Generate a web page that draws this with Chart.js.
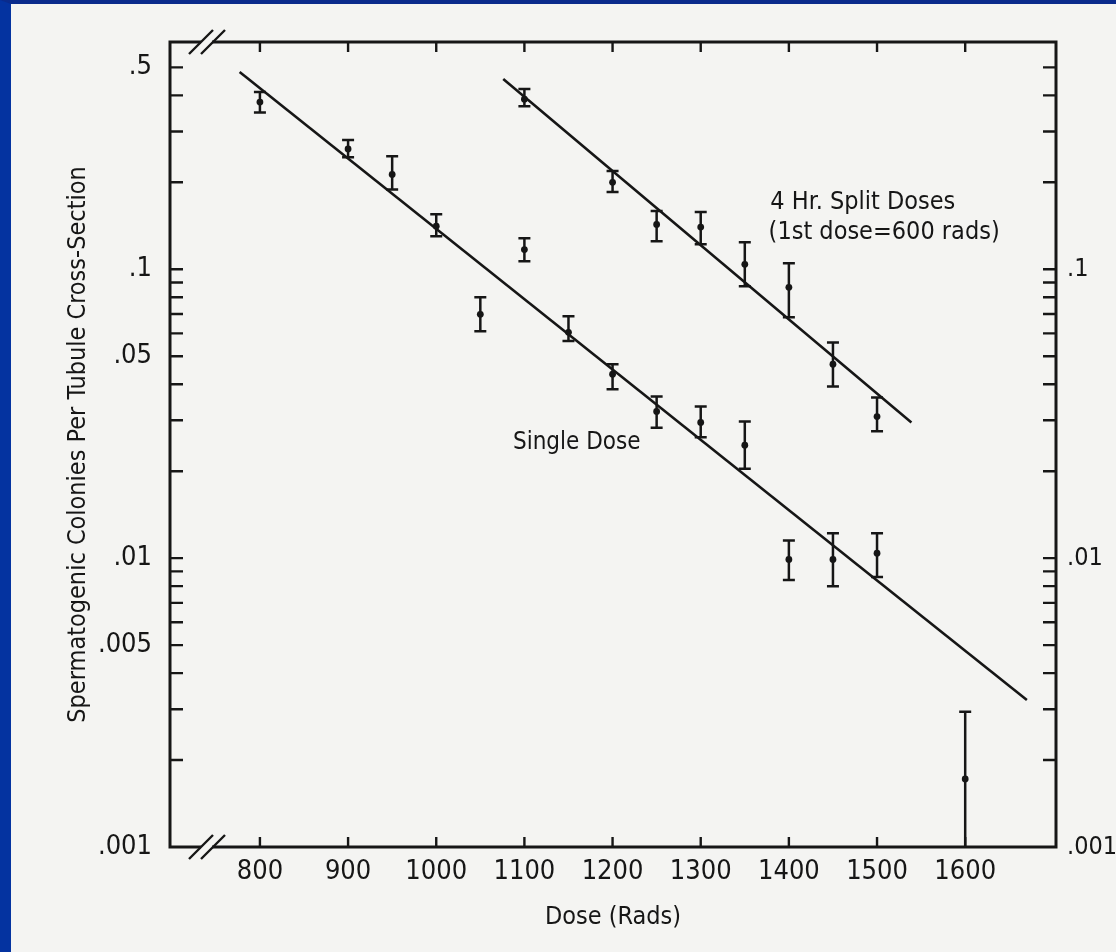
<!DOCTYPE html>
<html>
<head>
<meta charset="utf-8">
<script src="https://cdn.jsdelivr.net/npm/chart.js@4.4.1/dist/chart.umd.min.js"></script>
<style>
  html, body { margin: 0; padding: 0; background: #f4f4f2; }
  #frame { width: 1116px; height: 952px; box-sizing: border-box; border-left: 11px solid #0433a0; border-top: 4px solid #0a2b8c; background: #f4f4f2; }
  #frame canvas { display: block; }
</style>
</head>
<body>
<div id="frame"><canvas id="chart" width="1105" height="948"></canvas></div>
<script>
// Spermatogenic colony survival vs dose — single dose and 4 hr split doses.
const INK = '#161616';
const FONT = "'DejaVu Sans Condensed', 'DejaVu Sans', sans-serif";

// Single dose: mean and error bar limits
const singleDose = [800, 900, 950, 1000, 1050, 1100, 1150, 1200, 1250, 1300, 1350, 1400, 1450, 1500, 1600];
const singleMean = [0.379, 0.261, 0.213, 0.141, 0.0698, 0.117, 0.0605, 0.0433, 0.0322, 0.0295, 0.0246, 0.0099, 0.0099, 0.0104, 0.00172];
const singleHigh = [0.411, 0.280, 0.246, 0.155, 0.080, 0.128, 0.0688, 0.0469, 0.0363, 0.0335, 0.0297, 0.0115, 0.0122, 0.0122, 0.00294];
const singleLow  = [0.349, 0.244, 0.189, 0.130, 0.061, 0.1066, 0.0565, 0.0384, 0.0283, 0.0262, 0.0204, 0.0084, 0.0080, 0.0086, 0.0008];

// 4 hr split doses (1st dose = 600 rads)
const splitDose = [1100, 1200, 1250, 1300, 1350, 1400, 1450, 1500];
const splitMean = [0.388, 0.200, 0.143, 0.140, 0.104, 0.0866, 0.0469, 0.0309];
const splitHigh = [0.421, 0.219, 0.159, 0.158, 0.124, 0.105, 0.0558, 0.036];
const splitLow  = [0.367, 0.185, 0.125, 0.122, 0.0874, 0.0682, 0.0393, 0.0275];

// Fitted lines (end points)
const singleFitDose = [777, 1670];
const singleFitValue = [0.482, 0.00323];
const splitFitDose = [1076, 1539];
const splitFitValue = [0.456, 0.0295];

// Axes
const xTicks = [800, 900, 1000, 1100, 1200, 1300, 1400, 1500, 1600];
const yTicks = [0.001, 0.002, 0.003, 0.004, 0.005, 0.006, 0.007, 0.008, 0.009,
                0.01, 0.02, 0.03, 0.04, 0.05, 0.06, 0.07, 0.08, 0.09,
                0.1, 0.2, 0.3, 0.4, 0.5];
const yLeftLabelValues = [0.5, 0.1, 0.05, 0.01, 0.005, 0.001];
const yLeftLabelText = ['.5', '.1', '.05', '.01', '.005', '.001'];
const yRightLabelValues = [0.1, 0.01, 0.001];
const yRightLabelText = ['.1', '.01', '.001'];

// Annotations (data coordinates)
const notes = [
  { text: '4 Hr. Split Doses', x: 1379, y: 0.170 },
  { text: '(1st dose=600 rads)', x: 1377, y: 0.1336 },
  { text: 'Single Dose', x: 1087, y: 0.0251 },
];
const noteSize = [25, 25, 24];

const same = (a, b) => Math.abs(a - b) <= b * 1e-6;
const labeler = (vals, texts) => (v) => {
  const i = vals.findIndex((t) => same(v, t));
  return i < 0 ? '' : texts[i];
};
const setTicks = (list) => (s) => { s.ticks = list.map((v) => ({ value: v })); };

const frame = {
  id: 'frame',
  afterDatasetsDraw(chart) {
    const { ctx, chartArea: a, scales: { x, y } } = chart;
    ctx.save();
    ctx.beginPath();
    ctx.rect(a.left, a.top, a.right - a.left, a.bottom - a.top);
    ctx.clip();
    ctx.strokeStyle = INK;
    ctx.lineWidth = 2.5;
    const bars = (dose, lo, hi) => dose.forEach((d, i) => {
      const px = x.getPixelForValue(d);
      const top = y.getPixelForValue(hi[i]);
      const bot = y.getPixelForValue(lo[i]);
      ctx.beginPath();
      ctx.moveTo(px, top); ctx.lineTo(px, bot);
      ctx.moveTo(px - 6, top); ctx.lineTo(px + 6, top);
      if (bot < a.bottom) { ctx.moveTo(px - 6, bot); ctx.lineTo(px + 6, bot); }
      ctx.stroke();
    });
    bars(singleDose, singleLow, singleHigh);
    bars(splitDose, splitLow, splitHigh);
    ctx.restore();
  },
  afterDraw(chart) {
    const { ctx, chartArea: a, scales: { x, y } } = chart;
    ctx.save();
    ctx.strokeStyle = INK;
    ctx.lineCap = 'butt';
    // box
    ctx.lineWidth = 3;
    ctx.strokeRect(a.left, a.top, a.right - a.left, a.bottom - a.top);
    // inward ticks
    ctx.lineWidth = 2.4;
    ctx.beginPath();
    xTicks.forEach((v) => {
      const px = x.getPixelForValue(v);
      ctx.moveTo(px, a.bottom); ctx.lineTo(px, a.bottom - 10);
      ctx.moveTo(px, a.top); ctx.lineTo(px, a.top + 10);
    });
    yTicks.forEach((v) => {
      const py = y.getPixelForValue(v);
      if (py <= a.top + 2 || py >= a.bottom - 2) return;
      ctx.moveTo(a.left, py); ctx.lineTo(a.left + 13, py);
      ctx.moveTo(a.right, py); ctx.lineTo(a.right - 13, py);
    });
    ctx.stroke();
    // axis breaks "//" near the left corners
    [a.top, a.bottom].forEach((by) => {
      ctx.fillStyle = '#f4f4f2';
      ctx.fillRect(a.left + 31, by - 3, 11, 6);
      ctx.beginPath();
      [31, 43].forEach((cx) => {
        ctx.moveTo(a.left + cx - 12, by + 12);
        ctx.lineTo(a.left + cx + 12, by - 12);
      });
      ctx.lineWidth = 2.4;
      ctx.stroke();
    });
    // annotations
    ctx.fillStyle = INK;
    ctx.textAlign = 'left';
    ctx.textBaseline = 'middle';
    notes.forEach((n, i) => {
      ctx.font = `${noteSize[i]}px ${FONT}`;
      ctx.fillText(n.text, x.getPixelForValue(n.x), y.getPixelForValue(n.y));
    });
    ctx.restore();
  },
};

const tickFont = { family: FONT, size: 27 };
const fitStyle = { showLine: true, pointRadius: 0, borderColor: INK, borderWidth: 2.6 };

new Chart(document.getElementById('chart'), {
  type: 'scatter',
  data: {
    datasets: [
      { label: 'Single Dose', data: singleDose.map((d, i) => ({ x: d, y: singleMean[i] })),
        pointRadius: 3.4, backgroundColor: INK, borderWidth: 0 },
      { label: '4 Hr. Split Doses', data: splitDose.map((d, i) => ({ x: d, y: splitMean[i] })),
        pointRadius: 3.4, backgroundColor: INK, borderWidth: 0 },
      { label: 'Single Dose fit', data: singleFitDose.map((d, i) => ({ x: d, y: singleFitValue[i] })), ...fitStyle },
      { label: 'Split fit', data: splitFitDose.map((d, i) => ({ x: d, y: splitFitValue[i] })), ...fitStyle },
    ],
  },
  options: {
    responsive: false,
    animation: false,
    layout: { padding: 0 },
    plugins: { legend: { display: false }, tooltip: { enabled: false } },
    scales: {
      x: {
        type: 'linear', position: 'bottom', min: 698, max: 1703,
        afterBuildTicks: setTicks(xTicks), afterFit: (s) => { s.height = 105; },
        grid: { display: false, drawTicks: false }, border: { display: false },
        ticks: { autoSkip: false, maxRotation: 0, padding: 9, color: INK, font: tickFont, callback: (v) => String(v) },
        title: { display: true, text: 'Dose (Rads)', color: INK, font: { family: FONT, size: 25 }, padding: { top: 0, bottom: 20 } },
      },
      x2: {
        type: 'linear', position: 'top', min: 698, max: 1703,
        afterBuildTicks: setTicks(xTicks), afterFit: (s) => { s.height = 38; },
        grid: { display: false, drawTicks: false }, border: { display: false },
        ticks: { display: false },
      },
      y: {
        type: 'logarithmic', position: 'left', min: 0.001, max: 0.612,
        afterBuildTicks: setTicks(yTicks), afterFit: (s) => { s.width = 159; },
        grid: { display: false, drawTicks: false }, border: { display: false },
        ticks: { autoSkip: false, padding: 18, color: INK, font: tickFont, callback: labeler(yLeftLabelValues, yLeftLabelText) },
        title: { display: true, text: 'Spermatogenic Colonies Per Tubule Cross-Section', color: INK,
                 font: { family: FONT, size: 25 }, padding: { top: 52, bottom: 0 } },
      },
      y2: {
        type: 'logarithmic', position: 'right', min: 0.001, max: 0.612,
        afterBuildTicks: setTicks(yTicks), afterFit: (s) => { s.width = 60; },
        grid: { display: false, drawTicks: false }, border: { display: false },
        ticks: { autoSkip: false, padding: 11, color: INK, font: { family: FONT, size: 25 }, callback: labeler(yRightLabelValues, yRightLabelText) },
      },
    },
  },
  plugins: [frame],
});
</script>
</body>
</html>
